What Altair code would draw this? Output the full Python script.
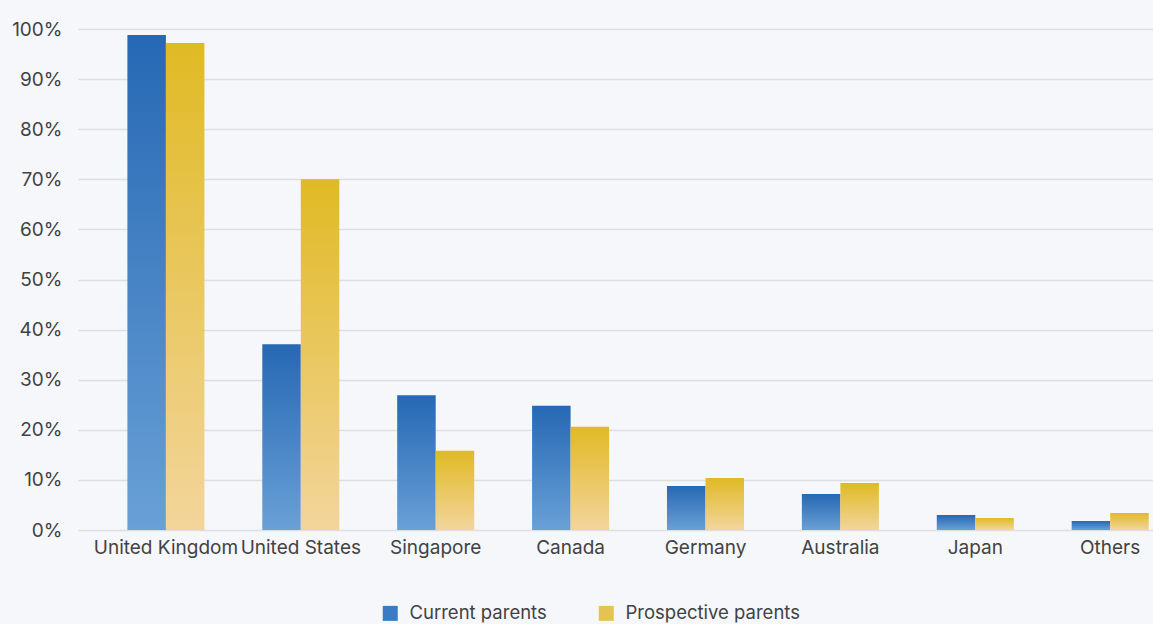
import altair as alt
import pandas as pd

categories = ["United Kingdom", "United States", "Singapore", "Canada",
              "Germany", "Australia", "Japan", "Others"]
current = [98.8, 37.1, 26.9, 24.8, 8.8, 7.2, 3.0, 1.8]
prospective = [97.2, 70.0, 15.8, 20.6, 10.4, 9.4, 2.4, 3.4]
series = ["Current parents", "Prospective parents"]
y_ticks = [0, 10, 20, 30, 40, 50, 60, 70, 80, 90, 100]

rows = []
for c, a, b in zip(categories, current, prospective):
    rows.append({"country": c, "series": series[0], "value": a})
    rows.append({"country": c, "series": series[1], "value": b})
df = pd.DataFrame(rows)

FONT = "Inter"
TXT = "#424242"

blue_grad = alt.Gradient(gradient="linear", x1=0, y1=0, x2=0, y2=1,
                         stops=[alt.GradientStop(offset=0, color="#2668b4"),
                                alt.GradientStop(offset=1, color="#69a0d6")])
gold_grad = alt.Gradient(gradient="linear", x1=0, y1=0, x2=0, y2=1,
                         stops=[alt.GradientStop(offset=0, color="#e0ba24"),
                                alt.GradientStop(offset=1, color="#f3d59c")])

x_enc = alt.X("country:N", sort=categories, title=None,
              scale=alt.Scale(paddingInner=0.429, paddingOuter=0.199, align=0.92),
              axis=alt.Axis(labelAngle=0, labelFontSize=19, labelColor=TXT,
                            labelFont=FONT, ticks=False, domain=False,
                            labelPadding=8, grid=False))
y_enc = alt.Y("value:Q", title=None,
              scale=alt.Scale(domain=[0, 100], nice=False),
              axis=alt.Axis(values=y_ticks, labelExpr="datum.value + '%'",
                            labelFontSize=19, labelColor=TXT, labelFont=FONT,
                            ticks=False, domain=False, labelPadding=16,
                            gridColor="#dedfe1", gridWidth=1.6))
xo_enc = alt.XOffset("series:N", sort=series,
                     scale=alt.Scale(domain=series, paddingInner=0, paddingOuter=0))

base = alt.Chart(df)

bars_cur = base.transform_filter(alt.datum.series == series[0]).mark_bar(
    color=blue_grad).encode(x=x_enc, y=y_enc, xOffset=xo_enc)
bars_pro = base.transform_filter(alt.datum.series == series[1]).mark_bar(
    color=gold_grad).encode(x=x_enc, y=y_enc, xOffset=xo_enc)

legend_layer = base.mark_bar(opacity=0).encode(
    x=x_enc, y=y_enc, xOffset=xo_enc,
    color=alt.Color("series:N", sort=series,
                    scale=alt.Scale(domain=series, range=["#3a7bc3", "#e4c352"]),
                    legend=alt.Legend(
                        title=None, orient="none", direction="horizontal",
                        legendX=303, legendY=575,
                        symbolType="square", symbolSize=225, symbolOpacity=1,
                        symbolStrokeWidth=0, labelLimit=400,
                        labelFontSize=18.5, labelColor=TXT, labelFont=FONT,
                        labelOffset=10, columnPadding=50,
                    )),
)

chart = alt.layer(bars_cur, bars_pro, legend_layer).properties(
    width=1075, height=501,
    padding={"left": 78, "top": 29, "right": 0, "bottom": 94},
    autosize=alt.AutoSizeParams(type="none"),
    background="#f5f7fa",
).configure_view(stroke=None).configure_axis(labelFont=FONT)

chart.save("out.html", embed_options={"renderer": "svg", "actions": False})
